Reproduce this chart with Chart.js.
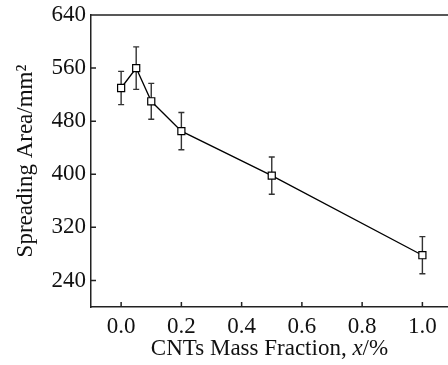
<!DOCTYPE html>
<html>
<head>
<meta charset="utf-8">
<script src="https://cdn.jsdelivr.net/npm/chart.js@4.4.1/dist/chart.umd.min.js"></script>
<style>
	html, body { margin: 0; padding: 0; background: #fff; }
	#wrap { width: 448px; height: 365px; }
</style>
</head>
<body>
<div id="wrap"><canvas id="canvas" width="448" height="365"></canvas></div>
<script>
var massFraction = [0, 0.05, 0.1, 0.2, 0.5, 1.0];
var spreadArea = [530, 560, 510, 465, 398, 278];
var spreadErr = [25, 32, 27, 28, 28, 28];
var xTicks = [0, 0.2, 0.4, 0.6, 0.8, 1.0];
var yTicks = [240, 320, 400, 480, 560, 640];

var serif = "'Liberation Serif', 'Times New Roman', serif";
var axisColor = '#222';

var points = massFraction.map(function(x, i) {
	return {x: x, y: spreadArea[i]};
});

// error bars, drawn under the markers
var errorBars = {
	id: 'errorBars',
	beforeDatasetsDraw: function(chart) {
		var ctx = chart.ctx;
		var xs = chart.scales.x, ys = chart.scales.y;
		ctx.save();
		ctx.strokeStyle = '#333';
		ctx.lineWidth = 1.4;
		for (var i = 0; i < massFraction.length; i++) {
			var px = xs.getPixelForValue(massFraction[i]);
			var top = ys.getPixelForValue(spreadArea[i] + spreadErr[i]);
			var bot = ys.getPixelForValue(spreadArea[i] - spreadErr[i]);
			ctx.beginPath();
			ctx.moveTo(px, top); ctx.lineTo(px, bot);
			ctx.moveTo(px - 3, top); ctx.lineTo(px + 3, top);
			ctx.moveTo(px - 3, bot); ctx.lineTo(px + 3, bot);
			ctx.stroke();
		}
		ctx.restore();
	}
};

// inward ticks, top frame line and the x title with italic x
var frame = {
	id: 'frame',
	afterDraw: function(chart) {
		var ctx = chart.ctx;
		var a = chart.chartArea;
		var xs = chart.scales.x, ys = chart.scales.y;
		ctx.save();
		ctx.strokeStyle = axisColor;
		ctx.lineWidth = 1.5;
		ctx.beginPath();
		ctx.moveTo(a.left - 0.75, a.top); ctx.lineTo(a.right, a.top);
		xTicks.forEach(function(v) {
			var px = xs.getPixelForValue(v);
			ctx.moveTo(px, a.bottom); ctx.lineTo(px, a.bottom - 5);
		});
		yTicks.forEach(function(v) {
			var py = ys.getPixelForValue(v);
			ctx.moveTo(a.left, py); ctx.lineTo(a.left + 5, py);
		});
		ctx.stroke();

		var parts = [
			{t: 'CNTs Mass Fraction, ', f: '23px ' + serif},
			{t: 'x', f: 'italic 23px ' + serif},
			{t: '/%', f: '23px ' + serif}
		];
		var total = 0;
		parts.forEach(function(p) {
			ctx.font = p.f;
			p.w = ctx.measureText(p.t).width;
			total += p.w;
		});
		var cx = (a.left + a.right) / 2 - total / 2;
		ctx.fillStyle = '#111';
		ctx.textBaseline = 'alphabetic';
		ctx.textAlign = 'left';
		parts.forEach(function(p) {
			ctx.font = p.f;
			ctx.fillText(p.t, cx, 355);
			cx += p.w;
		});
		ctx.restore();
	}
};

var config = {
	type: 'line',
	data: {
		datasets: [{
			label: 'Spreading Area',
			data: points,
			borderColor: '#000',
			borderWidth: 1.3,
			pointStyle: 'rect',
			pointRadius: 5,
			pointBorderWidth: 1.2,
			pointBorderColor: '#000',
			pointBackgroundColor: '#fff',
			tension: 0,
			fill: false
		}]
	},
	options: {
		responsive: false,
		animation: false,
		events: [],
		layout: {
			autoPadding: false,
			padding: {top: 15, right: 0, bottom: 0, left: 0}
		},
		plugins: {
			legend: {display: false},
			tooltip: {enabled: false}
		},
		scales: {
			x: {
				type: 'linear',
				min: -0.1,
				max: 1.085,
				afterBuildTicks: function(scale) {
					scale.ticks = xTicks.map(function(v) { return {value: v}; });
				},
				afterFit: function(scale) {
					scale.height = 58;
					scale.paddingLeft = 0;
					scale.paddingRight = 0;
				},
				grid: {display: false, drawTicks: false},
				border: {display: true, color: axisColor, width: 1.5},
				ticks: {
					padding: 6,
					color: '#111',
					font: {family: serif, size: 23},
					maxRotation: 0,
					callback: function(v) { return v.toFixed(1); }
				}
			},
			y: {
				min: 200,
				max: 640,
				afterBuildTicks: function(scale) {
					scale.ticks = yTicks.map(function(v) { return {value: v}; });
				},
				afterFit: function(scale) {
					scale.width = 91;
					scale.paddingTop = 0;
					scale.paddingBottom = 0;
				},
				grid: {display: false, drawTicks: false},
				border: {display: true, color: axisColor, width: 1.5},
				ticks: {
					padding: 5,
					color: '#111',
					font: {family: serif, size: 23}
				},
				title: {
					display: true,
					text: 'Spreading Area/mm\u00b2',
					color: '#111',
					font: {family: serif, size: 23},
					padding: {top: 12, bottom: 0}
				}
			}
		}
	},
	plugins: [errorBars, frame]
};

var myChart = new Chart(document.getElementById('canvas'), config);
</script>
</body>
</html>
